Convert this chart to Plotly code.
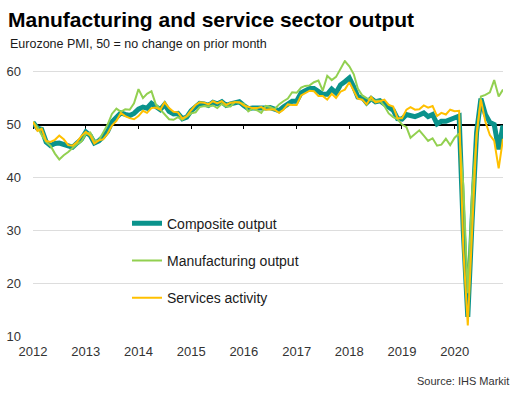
import pandas as pd
import plotly.graph_objects as go

months = pd.date_range("2012-01-01", "2020-12-01", freq="MS")

composite = [
    50.4, 49.3, 49.1, 46.7, 46.0, 46.4, 46.5, 46.3, 46.1, 45.7, 46.5, 47.2,
    48.6, 47.9, 46.5, 46.9, 47.7, 48.7, 50.5, 51.5, 52.2, 51.9, 51.7, 52.1,
    52.9, 53.3, 53.1, 54.0, 53.5, 52.8, 53.8, 52.5, 52.0, 52.1, 51.1, 51.4,
    52.6, 53.3, 54.0, 53.9, 53.6, 54.2, 53.9, 54.3, 53.6, 53.9, 54.2, 54.3,
    53.6, 53.0, 53.1, 53.0, 53.1, 53.1, 53.2, 52.9, 52.6, 53.3, 53.9, 54.4,
    54.4, 56.0, 56.4, 56.8, 56.8, 56.3, 55.7, 55.7, 56.7, 56.0, 57.5, 58.1,
    58.8, 57.1, 55.2, 55.1, 54.1, 54.9, 54.3, 54.5, 53.9, 53.1, 52.7, 51.1,
    51.0, 51.9, 51.6, 51.5, 51.8, 52.2, 51.5, 51.9, 50.1, 50.6, 50.6, 50.9,
    51.3, 51.6, 29.7, 13.6, 31.9, 48.5, 54.9, 51.9, 50.4, 50.0, 45.3, 49.8,
]

manufacturing = [
    50.5, 49.5, 48.0, 46.7, 46.0, 44.5, 43.4, 44.2, 44.8, 45.5, 46.3, 46.8,
    48.2, 48.5, 46.9, 47.0, 48.5, 50.0, 52.0, 53.0, 52.4, 52.9, 52.8, 54.0,
    56.7, 55.0, 55.8, 56.3, 53.8, 52.8, 51.8, 51.0, 50.9, 51.4, 50.9, 51.5,
    52.1, 52.3, 53.3, 53.5, 53.4, 53.6, 53.1, 53.9, 53.4, 53.4, 54.3, 54.1,
    53.9, 52.5, 53.0, 52.7, 52.2, 53.5, 53.3, 52.9, 53.8, 54.4, 54.9, 56.1,
    56.0, 57.0, 57.3, 57.4, 58.0, 58.3, 56.4, 59.2, 58.4, 59.0, 60.5, 62.0,
    61.0, 59.5, 56.8, 55.5, 55.0, 54.6, 54.5, 54.5, 53.5, 52.1, 51.4, 51.0,
    50.0, 49.5, 47.5, 48.2, 48.9, 47.9, 46.9, 47.4, 46.0, 46.2, 47.3, 46.1,
    47.5, 48.3, 38.5, 18.1, 37.3, 47.6, 55.3, 55.6, 56.1, 58.4, 55.3, 56.6,
]

services = [
    50.5, 48.8, 49.2, 46.9, 46.7, 47.1, 47.9, 47.2, 46.1, 46.0, 46.7, 47.8,
    48.6, 47.9, 46.4, 47.0, 47.2, 48.3, 49.8, 50.7, 52.2, 51.6, 51.2, 51.0,
    51.6, 52.6, 52.2, 53.1, 53.2, 52.8, 54.2, 53.1, 52.4, 52.3, 51.1, 51.6,
    52.7, 53.7, 54.2, 54.1, 53.8, 54.4, 54.0, 54.4, 53.7, 54.1, 54.2, 54.2,
    53.6, 53.3, 53.1, 53.1, 53.3, 52.8, 52.9, 52.8, 52.2, 52.8, 53.8, 53.7,
    53.7, 55.5, 56.0, 56.4, 56.3, 55.4, 55.4, 54.7, 55.8, 55.0, 56.2, 56.6,
    58.0, 56.2, 54.9, 54.7, 53.8, 55.2, 54.2, 54.4, 54.7, 53.7, 53.4, 51.2,
    51.2, 52.8, 53.3, 52.8, 52.9, 53.6, 53.2, 53.5, 51.6, 52.2, 51.9, 52.8,
    52.5, 52.6, 26.4, 12.0, 30.5, 48.3, 54.7, 50.5, 48.0, 46.9, 41.7, 47.3,
]

y_ticks = [10, 20, 30, 40, 50, 60]

Y_MIN, Y_MAX = 10, 62.2
FONT = "Arial, Liberation Sans, sans-serif"

fig = go.Figure()
fig.add_trace(go.Scatter(x=months, y=composite, name="Composite output", mode="lines",
                         line=dict(color="#0A938C", width=5), legendgroup="a"))
fig.add_trace(go.Scatter(x=months, y=manufacturing, name="Manufacturing output", mode="lines",
                         line=dict(color="#92D050", width=2), legendgroup="b"))
fig.add_trace(go.Scatter(x=months, y=services, name="Services activity", mode="lines",
                         line=dict(color="#FFC000", width=2), legendgroup="c"))
# carrier for the axis drawn at the 50 line
fig.add_trace(go.Scatter(x=[months[0]], y=[None], xaxis="x2", showlegend=False,
                         hoverinfo="skip", mode="lines"))

x_range = [months[0], months[-1]]
p50 = (50 - Y_MIN) / (Y_MAX - Y_MIN)

fig.update_layout(
    width=531, height=394,
    margin=dict(l=33, r=28, t=60, b=58, autoexpand=False),
    paper_bgcolor="white", plot_bgcolor="white",
    font=dict(family=FONT, color="#333333"),
    showlegend=True,
    legend=dict(x=0.2, xanchor="left", y=0.465, yanchor="top",
                font=dict(size=14, color="#1a1a1a", family=FONT),
                tracegroupgap=16, bgcolor="rgba(0,0,0,0)"),
    title=dict(text="<b>Manufacturing and service sector output</b>",
               x=8 / 531, xanchor="left", xref="container",
               y=1 - 20 / 394, yanchor="middle", yref="container",
               font=dict(size=21, color="#000000", family=FONT)),
    xaxis=dict(type="date", range=x_range, showgrid=False, zeroline=False,
               showline=False, ticks="", dtick="M12", tick0="2012-01-01",
               tickformat="%Y", tickfont=dict(size=13, color="#333333"),
               ticklabelstandoff=6, automargin=False),
    xaxis2=dict(type="date", range=x_range, overlaying="x", anchor="free",
                position=p50, side="bottom", showgrid=False, zeroline=False,
                showline=True, linecolor="#000000", linewidth=1.5,
                ticks="outside", ticklen=4, tickwidth=1, tickcolor="#000000",
                dtick="M12", tick0="2012-01-01", showticklabels=False,
                layer="below traces", automargin=False),
    yaxis=dict(range=[Y_MIN, Y_MAX], tickvals=y_ticks, showgrid=True,
               gridcolor="#DDDDDD", gridwidth=1, zeroline=False, showline=False,
               ticks="", tickfont=dict(size=13, color="#333333"),
               ticklabelstandoff=11, automargin=False),
    annotations=[
        dict(text="Eurozone PMI, 50 = no change on prior month",
             xref="paper", yref="paper", x=(8 - 33) / 470, y=1 + (60 - 44) / 276,
             xanchor="left", yanchor="middle", showarrow=False,
             font=dict(size=12.5, color="#1a1a1a", family=FONT)),
        dict(text="Source: IHS Markit",
             xref="paper", yref="paper", x=(511 - 33) / 470, y=-(381 - 336) / 276,
             xanchor="right", yanchor="middle", showarrow=False,
             font=dict(size=11, color="#333333", family=FONT)),
    ],
)

fig.write_html("out.html", config={"displayModeBar": False},
               post_script="document.body.style.margin='0';")
